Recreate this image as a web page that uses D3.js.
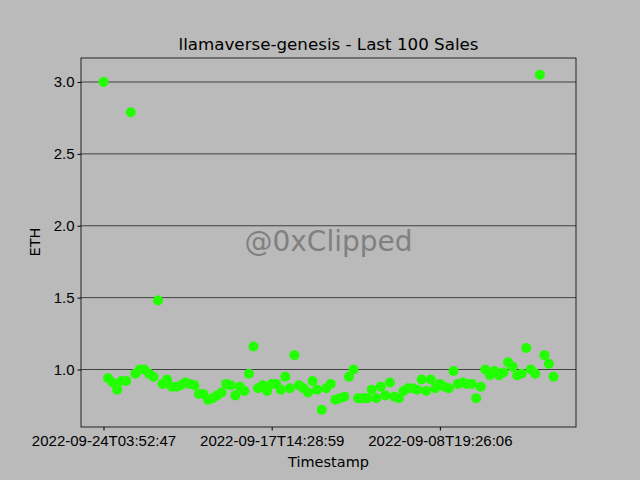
<!DOCTYPE html><html><head><meta charset="utf-8"><script src="https://d3js.org/d3.v7.min.js"></script>
<style>body{margin:0;background:#bababa}</style></head><body><script>
const prices=[3.0,0.94,0.91,0.86,0.92,0.92,2.79,0.97,1.0,1.0,0.97,0.95,1.48,0.9,0.93,0.88,0.88,0.89,0.91,0.9,0.89,0.83,0.83,0.79,0.8,0.82,0.84,0.9,0.89,0.82,0.88,0.85,0.97,1.16,0.87,0.89,0.85,0.9,0.9,0.86,0.95,0.87,1.1,0.89,0.87,0.84,0.92,0.86,0.72,0.87,0.9,0.79,0.8,0.81,0.95,1.0,0.8,0.8,0.8,0.86,0.8,0.88,0.82,0.91,0.81,0.8,0.85,0.87,0.87,0.86,0.93,0.85,0.93,0.87,0.9,0.88,0.87,0.99,0.9,0.91,0.9,0.9,0.8,0.88,1.0,0.96,0.99,0.96,0.98,1.05,1.02,0.96,0.97,1.15,1.0,0.97,3.05,1.1,1.04,0.95];
const tickIdx=[0,37,74];
const tickLabels=["2022-09-24T03:52:47","2022-09-17T14:28:59","2022-09-08T19:26:06"];
const yTicks=[1.0,1.5,2.0,2.5,3.0];
const W=640,H=480,L=81,R=576,T=58,B=427;
const n=prices.length,pad=(n-1)*0.05;
const x=d3.scaleLinear().domain([-pad,n-1+pad]).range([L,R]);
const y=d3.scaleLinear().domain([0.60,3.167]).range([B,T]);
const svg=d3.select("body").append("svg").attr("width",W).attr("height",H).style("font-family","DejaVu Sans");
svg.append("rect").attr("width",W).attr("height",H).attr("fill","#bababa");
svg.append("g").selectAll("line").data(yTicks).join("line").attr("x1",L).attr("x2",R).attr("y1",d=>y(d)).attr("y2",d=>y(d)).attr("stroke","#222").attr("stroke-width",0.8);
svg.append("g").attr("transform",`translate(0,${B})`).call(d3.axisBottom(x).tickValues(tickIdx).tickFormat((d,i)=>tickLabels[i]).tickSize(3.5).tickSizeOuter(0)).call(g=>{g.select(".domain").remove();g.selectAll("text").attr("font-size",15).attr("fill","#000").attr("dy","0.8em");g.selectAll("line").attr("stroke","#000")});
svg.append("g").attr("transform",`translate(${L},0)`).call(d3.axisLeft(y).tickValues(yTicks).tickFormat(d3.format(".1f")).tickSize(3.5).tickSizeOuter(0)).call(g=>{g.select(".domain").remove();g.selectAll("text").attr("font-size",15).attr("fill","#000");g.selectAll("line").attr("stroke","#000")});
svg.append("rect").attr("x",L).attr("y",T).attr("width",R-L).attr("height",B-T).attr("fill","none").attr("stroke","#000").attr("stroke-width",0.8);
svg.append("text").attr("x",(L+R)/2).attr("y",251).attr("text-anchor","middle").attr("font-size",28).attr("fill","#808080").text("@0xClipped");
svg.append("g").selectAll("circle").data(prices).join("circle").attr("cx",(d,i)=>x(i)).attr("cy",d=>y(d)).attr("r",5).attr("fill","#22ff00");
svg.append("text").attr("x",(L+R)/2).attr("y",50).attr("text-anchor","middle").attr("font-size",16.7).text("llamaverse-genesis - Last 100 Sales");
svg.append("text").attr("x",(L+R)/2).attr("y",467).attr("text-anchor","middle").attr("font-size",14.5).text("Timestamp");
svg.append("text").attr("transform","translate(40,242) rotate(-90)").attr("text-anchor","middle").attr("font-size",14.5).text("ETH");
</script></body></html>
